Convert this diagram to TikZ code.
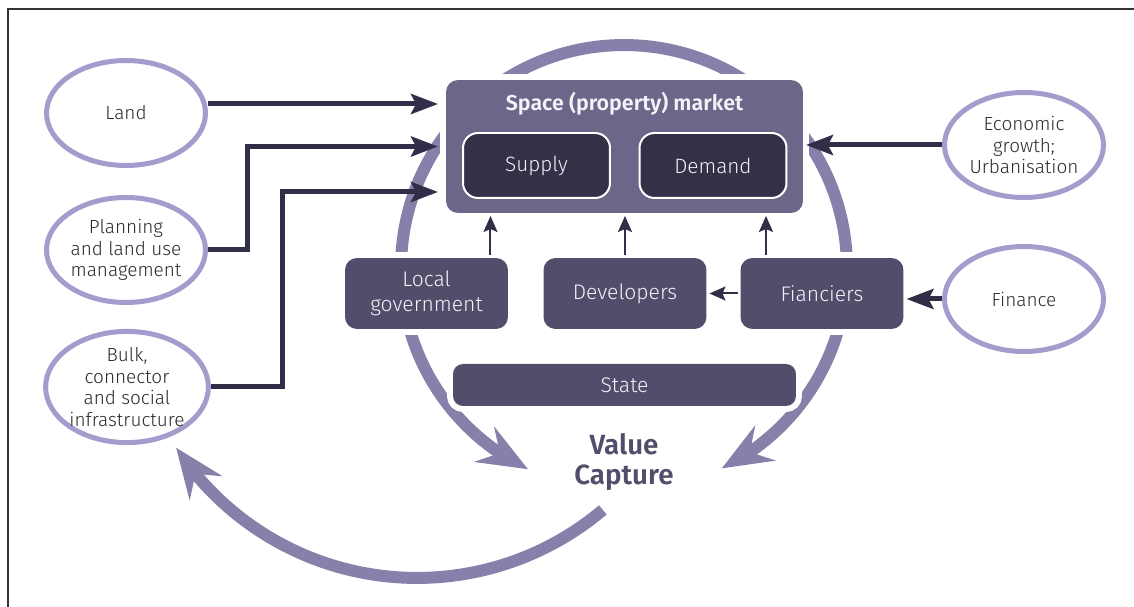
\documentclass[tikz,border=0pt]{standalone}
\usepackage{fontspec}
\setmainfont{Fira Sans Light}[BoldFont={Fira Sans SemiBold}]
\usetikzlibrary{arrows.meta,bending,shapes.geometric}

\definecolor{ringcol}{HTML}{8780AA}
\definecolor{ovalcol}{HTML}{A49CCD}
\definecolor{inkcol}{HTML}{342D47}
\definecolor{marketcol}{HTML}{6E6689}
\definecolor{agentcol}{HTML}{524D6B}
\definecolor{sdcol}{HTML}{352F48}
\definecolor{textcol}{HTML}{2A2A2A}
\definecolor{paletext}{HTML}{F4F2F8}

\tikzset{
	oval/.style={ellipse, draw=ovalcol, line width=0.1cm, fill=white, minimum width=3.18cm, minimum height=2.1cm, inner sep=0pt, align=center, text=textcol, font=\fontsize{10.8}{12.2}\selectfont},
	halo/.style={preaction={draw=white, line width=0.24cm}},
	agent/.style={halo, rounded corners=0.24cm, fill=agentcol, text=paletext, align=center, inner sep=0pt, outer sep=0.06cm, minimum width=3.26cm, minimum height=1.42cm, font=\fontsize{12}{14.2}\selectfont},
	sdbox/.style={rounded corners=0.3cm, fill=sdcol, draw=white, line width=0.04cm, text=paletext, minimum width=2.94cm, minimum height=1.3cm, inner sep=0pt, font=\fontsize{11.8}{13}\selectfont},
	feed/.style={draw=inkcol, line width=0.1cm, -{Stealth[length=0.54cm, width=0.4cm, inset=0.1cm]}},
	nudge/.style={draw=inkcol, line width=0.04cm, -{Stealth[length=0.32cm, width=0.28cm, inset=0.06cm]}},
	ring/.style={draw=ringcol, line width=0.24cm, -{Stealth[length=1cm, width=0.8cm, inset=0.35cm]}}
}

\begin{document}
\begin{tikzpicture}[x=0.02cm, y=-0.02cm]
	%%%%% START %%%%%
	\useasboundingbox (0,0) rectangle (1134,607);
	\draw[line width=0.03cm, black!80] (8,607) -- (8,9) -- (1134,9);
	
	% the cycle round the market
	\coordinate (hub) at (624,268);
	\draw[ring] (hub) ++(90:4.46cm) arc[start angle=90, end angle=244.5, radius=4.46cm];
	\draw[ring] (hub) ++(90:4.46cm) arc[start angle=90, end angle=-64, radius=4.46cm];
	
	% value capture feeds back into infrastructure
	\coordinate (swing) at (417,290);
	\draw[ring] (swing) ++(-49.8:5.76cm) arc[start angle=-49.8, end angle=-146.8, radius=5.76cm];
	
	% market and agents
	\node[halo, rounded corners=0.24cm, fill=marketcol, minimum width=7.14cm, minimum height=2.66cm, outer sep=0.06cm] (market) at (624.5,146.5) {};
	\node[text=paletext, font=\bfseries\fontsize{12.2}{13}\selectfont] (mtitle) at (624.5,104) {Space (property) market};
	\node[sdbox] (supply) at (536.5,165.5) {Supply};
	\node[sdbox] (demand) at (713,165.5) {Demand};
	
	\node[agent] (lg) at (426.5,293.5) {Local\\government};
	\node[agent] (dev) at (625,293.5) {Developers};
	\node[agent] (fin) at (822,293.5) {Fianciers};
	\node[agent, minimum width=6.86cm, minimum height=0.84cm, rounded corners=0.2cm] (state) at (624.5,385) {State};
	
	\node[align=center, text=agentcol, font=\bfseries\fontsize{15.8}{17}\selectfont] (vc) at (624,462) {Value\\Capture};
	
	% drivers
	\node[oval] (land) at (126,113) {Land};
	\node[oval] (plan) at (126,250) {Planning\\and land use\\management};
	\node[oval] (bulk) at (127,387) {Bulk,\\connector\\and social\\infrastructure};
	\node[oval] (econ) at (1024,145) {Economic\\growth;\\Urbanisation};
	\node[oval] (finance) at (1024,299) {Finance};
	
	% inputs
	\coordinate (landout) at ([yshift=0.18cm]land.east);
	\draw[feed, shorten >=0.1cm] (landout) -- (landout -| market.west);
	\draw[feed, shorten >=0.1cm] (plan.east) -- ++(40,0) |- (market.west);
	\coordinate (bulkin) at ([yshift=0.48cm]market.south west);
	\draw[feed, shorten >=0.1cm] (bulk.east) -- ++(72,0) |- (bulkin);
	\draw[feed] (econ.west) -- (econ.west -| market.east);
	\draw[feed] (finance.west) -- (finance.west -| fin.east);
	
	\draw[nudge] (fin.west) -- (dev.east);
	\coordinate (lgtop) at ([xshift=1.28cm]lg.north);
	\draw[nudge] (lgtop) -- (lgtop |- market.south);
	\draw[nudge] (dev.north) -- (dev.north |- market.south);
	\coordinate (fintop) at ([xshift=-1.12cm]fin.north);
	\draw[nudge] (fintop) -- (fintop |- market.south);
	%%%%% END %%%%%
\end{tikzpicture}
\end{document}
